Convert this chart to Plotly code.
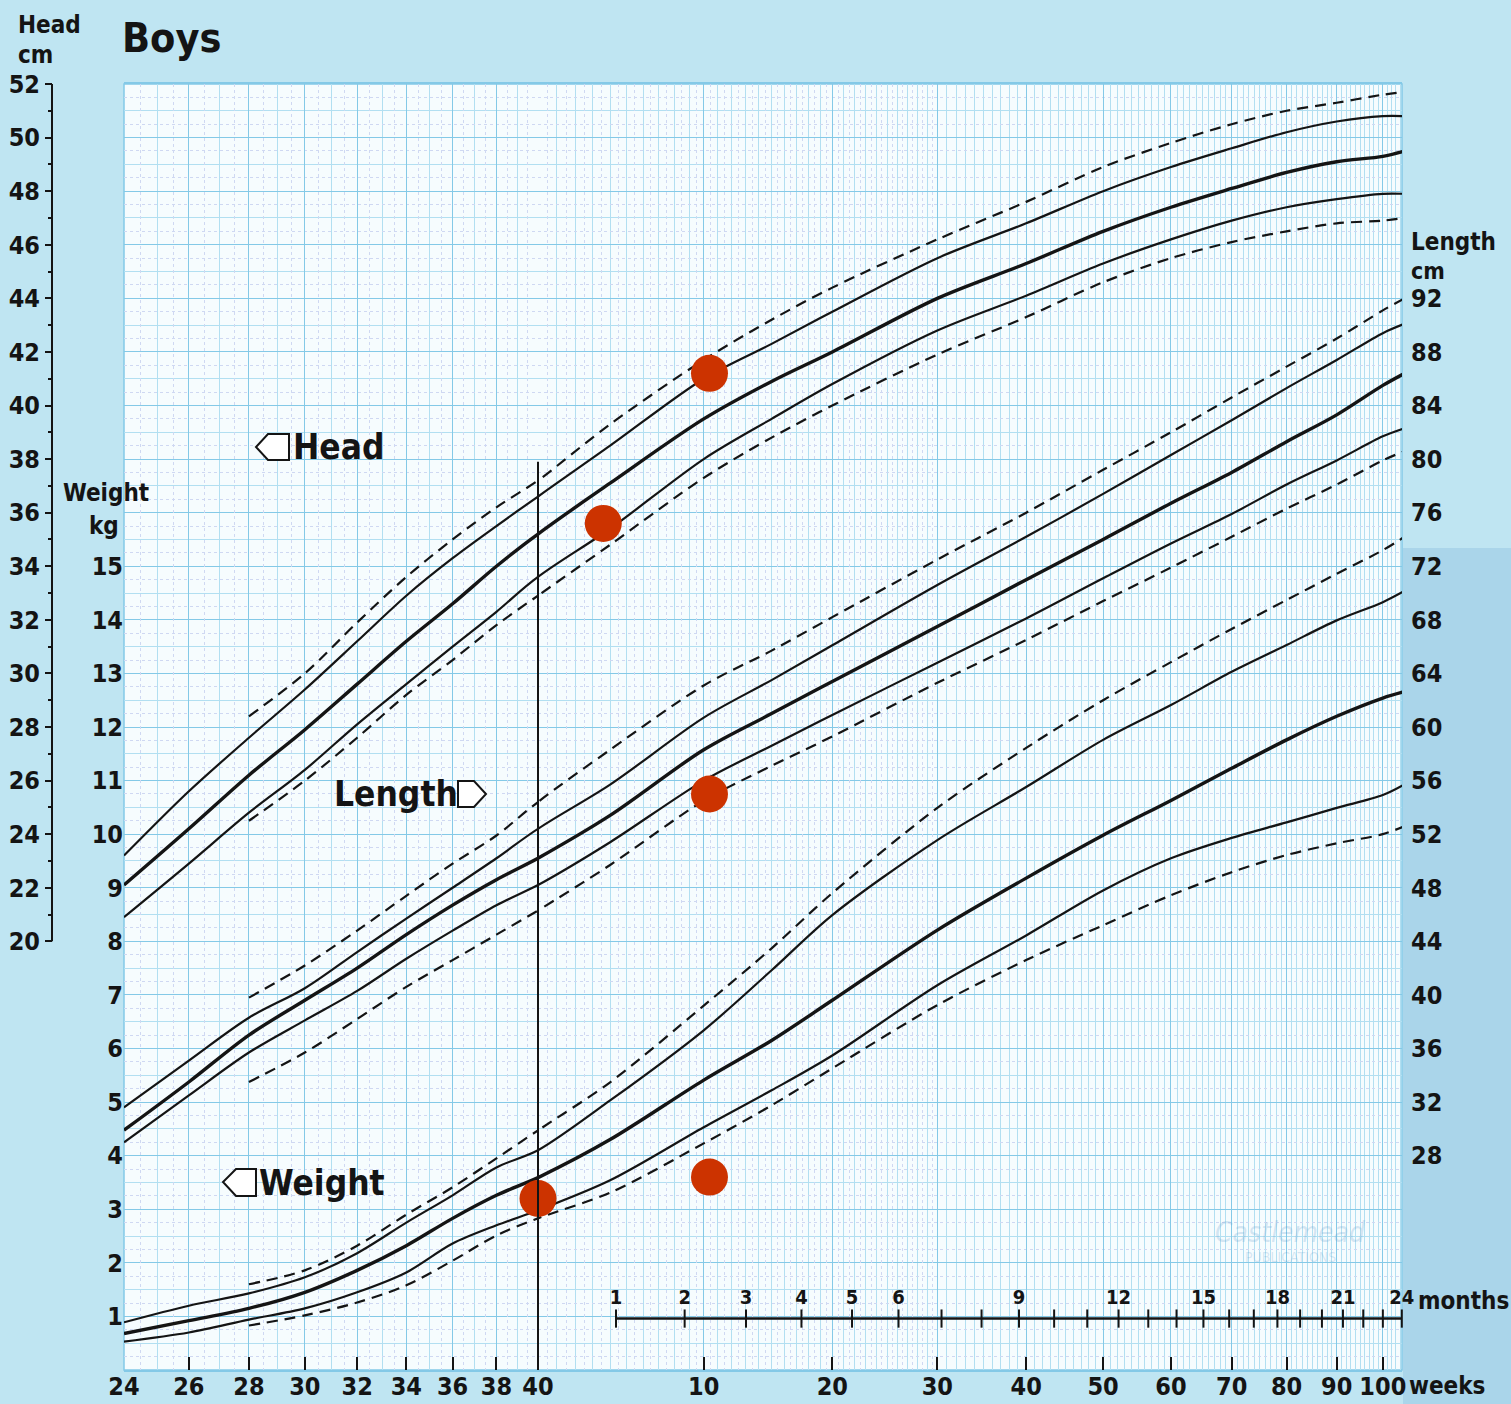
import math
import plotly.graph_objects as go

# ---------------- data ----------------
# ages in weeks since conception (gestation 24-40, then 40 + postnatal weeks)
AGES = [24, 26, 28, 30, 32, 34, 36, 38, 40, 44, 50, 55, 60, 70, 80, 90, 100, 110, 120, 130, 140, 145]
AGES_DASH = AGES[2:]

# Head circumference, cm
HEAD_TOP_DASH = [28.4, 30.0, 31.9, 33.6, 35.0, 36.2, 37.2, 39.3, 41.7, 43.2, 44.4, 46.2, 47.6, 48.9, 49.8, 50.5, 51.0, 51.3, 51.6, 51.7]
HEAD_UPPER = [23.2, 25.6, 27.6, 29.4, 31.2, 32.9, 34.3, 35.5, 36.6, 38.5, 41.0, 42.3, 43.5, 45.5, 46.8, 48.0, 48.9, 49.6, 50.2, 50.6, 50.8, 50.8]
HEAD_MID = [22.1, 24.2, 26.2, 27.9, 29.6, 31.2, 32.6, 34.0, 35.2, 37.1, 39.5, 40.9, 42.0, 44.0, 45.3, 46.5, 47.4, 48.1, 48.7, 49.1, 49.3, 49.5]
HEAD_LOWER = [20.9, 22.9, 24.8, 26.4, 28.1, 29.6, 31.0, 32.3, 33.6, 35.4, 38.0, 39.5, 40.8, 42.8, 44.1, 45.3, 46.2, 46.9, 47.4, 47.7, 47.9, 47.9]
HEAD_BOT_DASH = [24.5, 26.0, 27.6, 29.2, 30.5, 31.8, 32.9, 34.8, 37.3, 38.8, 40.0, 41.9, 43.3, 44.6, 45.5, 46.1, 46.5, 46.8, 46.9, 47.0]

# Length, cm
LEN_TOP_DASH = [39.8, 42.2, 44.8, 47.4, 49.8, 51.9, 54.4, 58.3, 63.1, 65.7, 68.2, 72.5, 76.0, 79.2, 82.0, 84.6, 86.9, 89.0, 91.1, 92.0]
LEN_UPPER = [31.6, 35.1, 38.3, 40.5, 43.2, 45.7, 48.0, 50.2, 52.4, 55.7, 60.7, 63.5, 66.1, 70.6, 74.2, 77.4, 80.3, 82.9, 85.3, 87.4, 89.4, 90.1]
LEN_MID = [29.9, 33.5, 37.0, 39.6, 42.0, 44.5, 46.7, 48.6, 50.2, 53.4, 58.3, 61.0, 63.4, 67.5, 71.0, 74.0, 76.7, 79.0, 81.3, 83.3, 85.5, 86.4]
LEN_LOWER = [29.0, 32.5, 35.7, 38.1, 40.3, 42.7, 44.8, 46.7, 48.2, 51.4, 56.0, 58.6, 60.9, 64.8, 68.1, 71.1, 73.7, 75.9, 78.1, 79.9, 81.7, 82.3]
LEN_BOT_DASH = [33.5, 35.7, 38.2, 40.6, 42.6, 44.5, 46.3, 49.7, 54.5, 57.1, 59.3, 63.3, 66.5, 69.4, 71.9, 74.2, 76.3, 78.1, 79.9, 80.6]

# Weight, kg
WT_TOP_DASH = [1.60, 1.86, 2.32, 2.90, 3.41, 3.95, 4.47, 5.37, 6.80, 7.87, 8.90, 10.49, 11.61, 12.50, 13.21, 13.83, 14.37, 14.86, 15.30, 15.55]
WT_UPPER = [0.89, 1.20, 1.43, 1.73, 2.18, 2.75, 3.26, 3.78, 4.10, 5.03, 6.34, 7.46, 8.49, 9.89, 10.88, 11.76, 12.41, 13.03, 13.53, 13.99, 14.33, 14.54]
WT_MID = [0.68, 0.92, 1.15, 1.45, 1.86, 2.32, 2.83, 3.26, 3.59, 4.30, 5.41, 6.15, 6.90, 8.21, 9.18, 9.98, 10.63, 11.23, 11.76, 12.20, 12.54, 12.66]
WT_LOWER = [0.53, 0.70, 0.94, 1.15, 1.45, 1.82, 2.36, 2.70, 2.98, 3.54, 4.53, 5.22, 5.87, 7.18, 8.11, 8.95, 9.55, 9.93, 10.22, 10.49, 10.73, 10.93]
WT_BOT_DASH = [0.83, 1.02, 1.26, 1.58, 2.04, 2.51, 2.83, 3.31, 4.23, 4.94, 5.63, 6.81, 7.65, 8.30, 8.86, 9.29, 9.61, 9.83, 10.00, 10.15]

# plotted measurements (red dots)
DOT_HEAD_AGES = [50.4, 43.6]
DOT_HEAD_VALS = [41.2, 35.6]
DOT_LEN_AGES = [50.4]
DOT_LEN_VALS = [55.0]
DOT_WT_AGES = [40.0, 50.4]
DOT_WT_VALS = [3.2, 3.6]

# axis ticks / labels
GEST_TICKS = [24, 26, 28, 30, 32, 34, 36, 38, 40]
POSTNATAL_WEEK_TICKS = [10, 20, 30, 40, 50, 60, 70, 80, 90, 100]
MONTH_TICKS = list(range(1, 25))
MONTH_LABELS = [1, 2, 3, 4, 5, 6, 9, 12, 15, 18, 21, 24]
WEIGHT_TICKS = list(range(1, 16))
HEAD_TICKS = list(range(20, 53, 2))
LENGTH_TICKS = list(range(28, 93, 4))

TERM = 40
WEEKS_PER_MONTH = 52.1775 / 12
POST_OFFSET = 10         # postnatal axis: log(weeks since conception - 10)
AGE_MIN, AGE_MAX = 24, 144.4
TERM_LINE_TOP_HEAD = 37.9
MONTH_AXIS_KG = 0.96
MONTH_LABEL_KG = 1.32

# ---------------- styling ----------------
W, H = 1511, 1404
ML, MR, MT, MB = 10, 109, 84, 34
PLOT_LEFT_PX = 124
TERM_PX = 538
INK = '#141414'
PAPER = '#bfe5f2'
PLOT_BG = '#f6fcfe'
GRID_MAJ = '#84c9e7'
GRID_MIN = '#b2dff1'
GRID_DOT = '#cfd8f2'
RED = '#cc3300'
FONT = 'DejaVu Sans Condensed, Liberation Sans Narrow, sans-serif'


def PX(px):
    return (px - ML) / (W - ML - MR)


def PY(py):
    return (H - MB - py) / (H - MT - MB)


def post_x(ages):
    return [a - POST_OFFSET for a in ages]


fig = go.Figure()

SOLID = dict(color=INK, width=2.2, shape='spline', smoothing=0.9)
BOLD = dict(color=INK, width=3.4, shape='spline', smoothing=0.9)
DASH = dict(color=INK, width=2.2, dash='11px,7px', shape='spline', smoothing=0.9)


def curve(ages, vals, yaxis, style):
    # gestational part on the pre-term axis, postnatal part on the post-term axis;
    # one neighbour point beyond the term boundary keeps the splines continuous (clipped)
    after = next(i for i, a in enumerate(ages) if a > TERM)
    before = max(i for i, a in enumerate(ages) if a < TERM)
    g_idx = [i for i, a in enumerate(ages) if a <= TERM] + [after]
    p_idx = [before] + [i for i, a in enumerate(ages) if a >= TERM]
    fig.add_trace(go.Scatter(x=[ages[i] for i in g_idx], y=[vals[i] for i in g_idx],
                             xaxis='x', yaxis=yaxis, mode='lines', line=style,
                             hoverinfo='skip'))
    fig.add_trace(go.Scatter(x=post_x([ages[i] for i in p_idx]), y=[vals[i] for i in p_idx],
                             xaxis='x3', yaxis=yaxis, mode='lines', line=style,
                             hoverinfo='skip'))


# weight (y)
curve(AGES_DASH, WT_TOP_DASH, 'y', DASH)
curve(AGES, WT_UPPER, 'y', SOLID)
curve(AGES, WT_MID, 'y', BOLD)
curve(AGES, WT_LOWER, 'y', SOLID)
curve(AGES_DASH, WT_BOT_DASH, 'y', DASH)
# head (y2)
curve(AGES_DASH, HEAD_TOP_DASH, 'y2', DASH)
curve(AGES, HEAD_UPPER, 'y2', SOLID)
curve(AGES, HEAD_MID, 'y2', BOLD)
curve(AGES, HEAD_LOWER, 'y2', SOLID)
curve(AGES_DASH, HEAD_BOT_DASH, 'y2', DASH)
# length (y3)
curve(AGES_DASH, LEN_TOP_DASH, 'y3', DASH)
curve(AGES, LEN_UPPER, 'y3', SOLID)
curve(AGES, LEN_MID, 'y3', BOLD)
curve(AGES, LEN_LOWER, 'y3', SOLID)
curve(AGES_DASH, LEN_BOT_DASH, 'y3', DASH)

# months scale
month_ages = [TERM + m * WEEKS_PER_MONTH for m in MONTH_TICKS]
fig.add_trace(go.Scatter(x=post_x([month_ages[0], month_ages[-1]]), y=[MONTH_AXIS_KG] * 2,
                         xaxis='x3', yaxis='y', mode='lines', line=dict(color=INK, width=2.5),
                         hoverinfo='skip'))
fig.add_trace(go.Scatter(x=post_x(month_ages), y=[MONTH_AXIS_KG] * len(month_ages),
                         xaxis='x3', yaxis='y', mode='markers', cliponaxis=False,
                         marker=dict(symbol='line-ns', size=13, line=dict(color=INK, width=2)),
                         hoverinfo='skip'))
label_ages = [TERM + m * WEEKS_PER_MONTH for m in MONTH_LABELS]
fig.add_trace(go.Scatter(x=post_x(label_ages), y=[MONTH_LABEL_KG] * len(label_ages),
                         xaxis='x3', yaxis='y', mode='text', cliponaxis=False,
                         text=[str(m) for m in MONTH_LABELS],
                         textfont=dict(family=FONT, size=20, color=INK, weight='bold'),
                         hoverinfo='skip'))

# red dots
DOT = dict(size=37, color=RED, line=dict(width=0))
fig.add_trace(go.Scatter(x=post_x(DOT_HEAD_AGES), y=DOT_HEAD_VALS, xaxis='x3', yaxis='y2',
                         mode='markers', marker=DOT, cliponaxis=False, hoverinfo='skip'))
fig.add_trace(go.Scatter(x=post_x(DOT_LEN_AGES), y=DOT_LEN_VALS, xaxis='x3', yaxis='y3',
                         mode='markers', marker=DOT, cliponaxis=False, hoverinfo='skip'))
fig.add_trace(go.Scatter(x=post_x(DOT_WT_AGES), y=DOT_WT_VALS, xaxis='x3', yaxis='y',
                         mode='markers', marker=DOT, cliponaxis=False, hoverinfo='skip'))

# dummy traces for the dotted half-week grid axes
fig.add_trace(go.Scatter(x=[AGE_MIN], y=[0], xaxis='x2', yaxis='y', mode='markers',
                         marker=dict(size=1, opacity=0), hoverinfo='skip'))
fig.add_trace(go.Scatter(x=post_x([TERM + 1]), y=[0], xaxis='x4', yaxis='y', mode='markers',
                         marker=dict(size=1, opacity=0), hoverinfo='skip'))

# ---------------- axes ----------------
gest_range = [math.log10(AGE_MIN), math.log10(TERM)]
post_range = [math.log10(TERM - POST_OFFSET), math.log10(AGE_MAX - POST_OFFSET)]
tickfont = dict(family=FONT, size=25, color=INK, weight='bold')
common_x = dict(type='log', automargin=False, ticks='inside', ticklen=13, tickwidth=2,
                tickcolor=INK, tickfont=tickfont, showgrid=True, gridcolor=GRID_MAJ,
                gridwidth=1.4, showline=True, linecolor=GRID_MAJ, linewidth=1.5,
                mirror=True, zeroline=False, anchor='y', ticklabelstandoff=-7)
dot_x = dict(type='log', automargin=False, showticklabels=False, ticks='', showgrid=True,
             gridcolor=GRID_DOT, griddash='dot', gridwidth=1, zeroline=False,
             showline=False, anchor='y', tickmode='array')

fig.update_layout(
    width=W, height=H,
    margin=dict(l=ML, r=MR, t=MT, b=MB, autoexpand=False),
    paper_bgcolor=PAPER, plot_bgcolor=PLOT_BG,
    showlegend=False,
    xaxis=dict(common_x, domain=[PX(PLOT_LEFT_PX), PX(TERM_PX)], range=gest_range,
               tickmode='array', tickvals=GEST_TICKS, ticktext=[str(v) for v in GEST_TICKS],
               minor=dict(tickmode='array', tickvals=list(range(AGE_MIN, TERM + 1)),
                          showgrid=True, gridcolor=GRID_MIN, gridwidth=1, ticks='')),
    xaxis2=dict(dot_x, overlaying='x', range=gest_range,
                tickvals=[a + 0.5 for a in range(AGE_MIN, TERM)]),
    xaxis3=dict(common_x, domain=[PX(TERM_PX), 1], range=post_range,
                tickmode='array', tickvals=post_x([TERM + w for w in POSTNATAL_WEEK_TICKS]),
                ticktext=[str(w) for w in POSTNATAL_WEEK_TICKS],
                minor=dict(tickmode='array',
                           tickvals=post_x(list(range(TERM, int(AGE_MAX) + 1))),
                           showgrid=True, gridcolor=GRID_MIN, gridwidth=1, ticks='')),
    xaxis4=dict(dot_x, overlaying='x3', range=post_range,
                tickvals=post_x([a + 0.5 for a in range(TERM, 70)])),
    yaxis=dict(range=[0, 24], tickmode='array', tickvals=list(range(0, 25)), automargin=False,
               ticktext=[str(v) if v in WEIGHT_TICKS else '' for v in range(0, 25)],
               ticks='', tickfont=tickfont, showgrid=True, gridcolor=GRID_MAJ, gridwidth=1.4,
               minor=dict(tickmode='array', tickvals=[v + 0.5 for v in range(0, 24)],
                          showgrid=True, gridcolor=GRID_MIN, gridwidth=1, ticks=''),
               showline=False, zeroline=False, anchor='x'),
    yaxis2=dict(overlaying='y', anchor='free', position=PX(52), side='left', automargin=False,
                range=[4, 52], tickmode='array', tickvals=HEAD_TICKS,
                ticks='outside', ticklen=7, tickwidth=2, tickcolor=INK,
                tickfont=tickfont, showgrid=False, zeroline=False, showline=False,
                minor=dict(tickmode='array', tickvals=list(range(21, 52, 2)),
                           ticks='outside', ticklen=4, tickwidth=2, tickcolor=INK,
                           showgrid=False)),
    yaxis3=dict(overlaying='y', anchor='x3', side='right', range=[12, 108], automargin=False,
                tickmode='array', tickvals=LENGTH_TICKS, ticks='',
                tickfont=tickfont, showgrid=False, zeroline=False, showline=False,
                ticklabelstandoff=8,
                minor=dict(tickmode='array', tickvals=list(range(13, 108, 2)),
                           showgrid=True, gridcolor=GRID_DOT, griddash='dot',
                           gridwidth=1, ticks='')),
)

# ---------------- decorations ----------------
def poly(points):
    return 'M ' + ' L '.join(f'{PX(x):.5f},{PY(y):.5f}' for x, y in points) + ' Z'


shapes = [
    dict(type='rect', xref='paper', yref='paper', x0=PX(1403), x1=PX(1530), y0=PY(1420), y1=PY(548),
         fillcolor='#aad5ea', line=dict(width=0), layer='below'),
    dict(type='rect', xref='paper', yref='paper', x0=PX(PLOT_LEFT_PX), x1=1, y0=0, y1=1,
         line=dict(color=GRID_MAJ, width=1.5), fillcolor='rgba(0,0,0,0)', layer='between'),
    # term (40 weeks) line
    dict(type='line', xref='paper', yref='y2', x0=PX(TERM_PX), x1=PX(TERM_PX),
         y0=4, y1=TERM_LINE_TOP_HEAD, line=dict(color=INK, width=2), layer='above'),
    # head axis spine
    dict(type='line', xref='paper', yref='y2', x0=PX(52), x1=PX(52), y0=20, y1=52,
         line=dict(color=INK, width=2)),
    dict(type='path', xref='paper', yref='paper',
         path=poly([(289, 434), (268, 434), (256, 447), (268, 460), (289, 460)]),
         line=dict(color=INK, width=2), fillcolor='white'),
    dict(type='path', xref='paper', yref='paper',
         path=poly([(458, 781), (474, 781), (486, 794), (474, 807), (458, 807)]),
         line=dict(color=INK, width=2), fillcolor='white'),
    dict(type='path', xref='paper', yref='paper',
         path=poly([(256, 1169), (236, 1169), (223, 1182), (236, 1196), (256, 1196)]),
         line=dict(color=INK, width=2), fillcolor='white'),
]
fig.update_layout(shapes=shapes)


def label(text, px, py, size, xanchor='left', color=INK, style='normal', weight='bold'):
    fig.add_annotation(text=text, xref='paper', yref='paper', x=PX(px), y=PY(py),
                       xanchor=xanchor, yanchor='middle', showarrow=False,
                       font=dict(family=FONT, size=size, color=color, weight=weight, style=style))


label('Head', 16, 25, 24)
label('cm', 16, 55, 24)
label('Boys', 120, 38, 41)
label('Weight', 106, 493, 24, xanchor='center')
label('kg', 104, 526, 24, xanchor='center')
label('Length', 1409, 242, 24)
label('cm', 1409, 271, 23)
label('Head', 291, 447, 35)
label('Length', 332, 794, 35)
label('Weight', 257, 1183, 35)
label('weeks', 1407, 1386, 24)
label('months', 1416, 1301, 24)
label('Castlemead', 1290, 1232, 28, xanchor='center', color='rgba(90,150,200,0.22)',
      style='italic', weight='normal')
label('PUBLICATIONS', 1290, 1257, 14, xanchor='center', color='rgba(90,150,200,0.22)',
      weight='normal')

fig.write_html('out.html', config={'displayModeBar': False},
               post_script="document.body.style.margin='0px';")
